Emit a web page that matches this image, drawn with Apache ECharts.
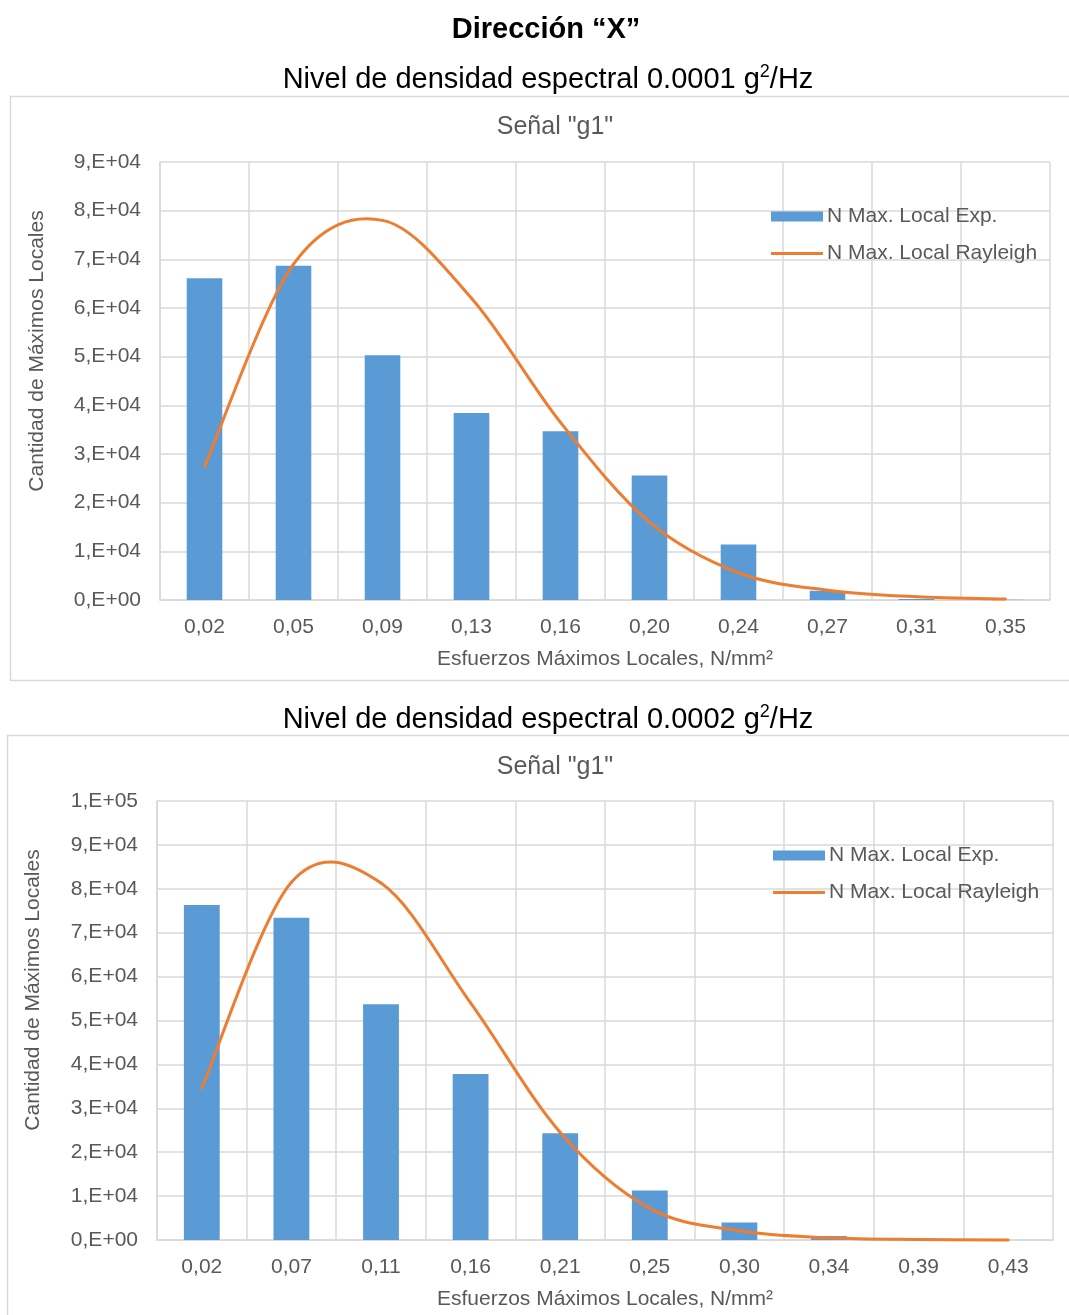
<!DOCTYPE html>
<html><head><meta charset="utf-8">
<script src="https://cdn.jsdelivr.net/npm/echarts@6/dist/echarts.min.js"></script>
<style>html,body{margin:0;padding:0;background:#fff}#c{width:1069px;height:1315px}</style>
</head><body><div id="c"></div>
<script>
const categories1 = ['0,02','0,05','0,09','0,13','0,16','0,20','0,24','0,27','0,31','0,35'];
const expValues1 = [66100, 68700, 50300, 38400, 34700, 25600, 11400, 1900, 200, 50];
const rayValues1 = [27400, 69000, 78000, 62000, 36500, 16000, 5600, 2000, 650, 200];

const categories2 = ['0,02','0,07','0,11','0,16','0,21','0,25','0,30','0,34','0,39','0,43'];
const expValues2 = [76300, 73400, 53700, 37800, 24300, 11300, 4000, 900, 100, 20];
const rayValues2 = [34600, 81500, 81300, 54000, 24500, 7200, 2100, 500, 100, 20];

const yTicks1 = {min: 0, max: 90000, interval: 10000};
const yTicks2 = {min: 0, max: 100000, interval: 10000};

const FONT = '"Liberation Sans", Arial, sans-serif';
const GRAY = '#595959';
const BLUE = '#5B9BD5';
const ORANGE = '#ED7D31';
const GRID = '#D9D9D9';
const LINE_ICON = 'path://M0,0L52,0L52,3L0,3Z';

function sci(v){
  if (v === 0) return '0,E+00';
  const e = Math.floor(Math.log10(v) + 1e-9);
  const m = Math.round(v / Math.pow(10, e));
  return m + ',E+' + String(e).padStart(2, '0');
}

// Excel-style smoothed line (Catmull-Rom → Bézier), drawn through the data points via the axis scales
function smoothRender(params, api){
  const n = params.dataInsideLength;
  const i = params.dataIndexInside;
  if (i >= n - 1) return {type: 'group', children: []};
  const P = k => { k = Math.max(0, Math.min(n - 1, k)); return api.coord([api.value(0, k), api.value(1, k)]); };
  const p0 = P(i - 1), p1 = P(i), p2 = P(i + 1), p3 = P(i + 2);
  return {
    type: 'bezierCurve', silent: true,
    shape: {
      x1: p1[0], y1: p1[1], x2: p2[0], y2: p2[1],
      cpx1: p1[0] + (p2[0] - p0[0]) / 6, cpy1: p1[1] + (p2[1] - p0[1]) / 6,
      cpx2: p2[0] - (p3[0] - p1[0]) / 6, cpy2: p2[1] - (p3[1] - p1[1]) / 6
    },
    style: {stroke: ORANGE, lineWidth: 3, fill: null, lineCap: 'round'}
  };
}

function xAxis(cats, idx){
  return {
    type: 'category', gridIndex: idx, data: cats, boundaryGap: true,
    axisLine: {show: true, lineStyle: {color: GRID, width: 1.5}},
    axisTick: {show: false},
    splitLine: {show: true, lineStyle: {color: GRID, width: 1.5}},
    axisLabel: {color: GRAY, fontSize: 21, fontFamily: FONT, margin: 17},
    name: 'Esfuerzos Máximos Locales, N/mm²', nameLocation: 'middle', nameGap: 49,
    nameTextStyle: {color: GRAY, fontSize: 21, fontFamily: FONT}
  };
}
function yAxis(t, idx){
  return {
    type: 'value', gridIndex: idx, min: t.min, max: t.max, interval: t.interval,
    axisLine: {show: true, lineStyle: {color: GRID, width: 1.5}},
    axisTick: {show: false},
    splitLine: {show: true, lineStyle: {color: GRID, width: 1.5}},
    axisLabel: {color: GRAY, fontSize: 21, fontFamily: FONT, margin: 19, formatter: sci}
  };
}
function legend(idx, left, top){
  const sfx = idx ? ' ' : '';
  return {
    orient: 'vertical', left: left, top: top, padding: 0, itemWidth: 52, itemHeight: 10, itemGap: 16,
    textStyle: {color: GRAY, fontSize: 21, fontFamily: FONT, padding: [0, 0, 0, -1]},
    data: [
      {name: 'N Max. Local Exp.' + sfx, icon: 'rect'},
      {name: 'N Max. Local Rayleigh' + sfx, icon: LINE_ICON}
    ],
    formatter: n => n.trim()
  };
}
const supRich = {
  a: {fontSize: 29, fontFamily: FONT, fontWeight: 'normal', fill: '#000', color: '#000', lineHeight: 34},
  s: {fontSize: 18, fontFamily: FONT, fontWeight: 'normal', fill: '#000', color: '#000', lineHeight: 20, verticalAlign: 'top'}
};
function gText(text, x, y, size, color, weight, extra){
  return Object.assign({
    type: 'text', x: x, y: y, silent: true,
    style: {text: text, fontSize: size, fontFamily: FONT, fontWeight: weight || 'normal', fill: color, align: 'center', verticalAlign: 'middle'}
  }, extra || {});
}
function supText(txt, x, y){
  return {type: 'text', x: x, y: y, silent: true,
    style: {text: '{a|' + txt + ' g}{s|2}{a|/Hz}', rich: supRich, align: 'center', verticalAlign: 'middle'}};
}

const chart = echarts.init(document.getElementById('c'), null, {renderer: 'canvas'});
chart.setOption({
  backgroundColor: '#fff',
  animation: false,
  graphic: [
    {type: 'rect', shape: {x: 10.5, y: 96.5, width: 1070, height: 584}, style: {fill: 'none', stroke: GRID, lineWidth: 1.5}, z: -10, silent: true},
    {type: 'rect', shape: {x: 7.5, y: 735.5, width: 1070, height: 590}, style: {fill: 'none', stroke: GRID, lineWidth: 1.5}, z: -10, silent: true},
    gText('Dirección “X”', 546, 30, 29, '#000', 'bold'),
    supText('Nivel de densidad espectral 0.0001', 548, 80),
    gText('Señal "g1"', 555, 127, 25, GRAY),
    supText('Nivel de densidad espectral 0.0002', 548, 720),
    gText('Señal "g1"', 555, 767, 25, GRAY),
    gText('Cantidad de Máximos Locales', 37, 351, 21, GRAY, 'normal', {rotation: Math.PI / 2}),
    gText('Cantidad de Máximos Locales', 33, 990, 21, GRAY, 'normal', {rotation: Math.PI / 2})
  ],
  legend: [legend(0, 771, 206), legend(1, 773, 845)],
  grid: [
    {left: 160, right: 19, top: 162, bottom: 715},
    {left: 157, right: 16, top: 801, bottom: 75}
  ],
  xAxis: [xAxis(categories1, 0), xAxis(categories2, 1)],
  yAxis: [yAxis(yTicks1, 0), yAxis(yTicks2, 1)],
  series: [
    {name: 'N Max. Local Exp.', type: 'bar', xAxisIndex: 0, yAxisIndex: 0, data: expValues1, barWidth: '40%', itemStyle: {color: BLUE}},
    {name: 'N Max. Local Rayleigh', type: 'custom', xAxisIndex: 0, yAxisIndex: 0, renderItem: smoothRender,
     data: rayValues1.map((v, i) => [i, v]), encode: {x: 0, y: 1}, itemStyle: {color: ORANGE}, z: 3},
    {name: 'N Max. Local Exp. ', type: 'bar', xAxisIndex: 1, yAxisIndex: 1, data: expValues2, barWidth: '40%', itemStyle: {color: BLUE}},
    {name: 'N Max. Local Rayleigh ', type: 'custom', xAxisIndex: 1, yAxisIndex: 1, renderItem: smoothRender,
     data: rayValues2.map((v, i) => [i, v]), encode: {x: 0, y: 1}, itemStyle: {color: ORANGE}, z: 3}
  ]
});
</script></body></html>
